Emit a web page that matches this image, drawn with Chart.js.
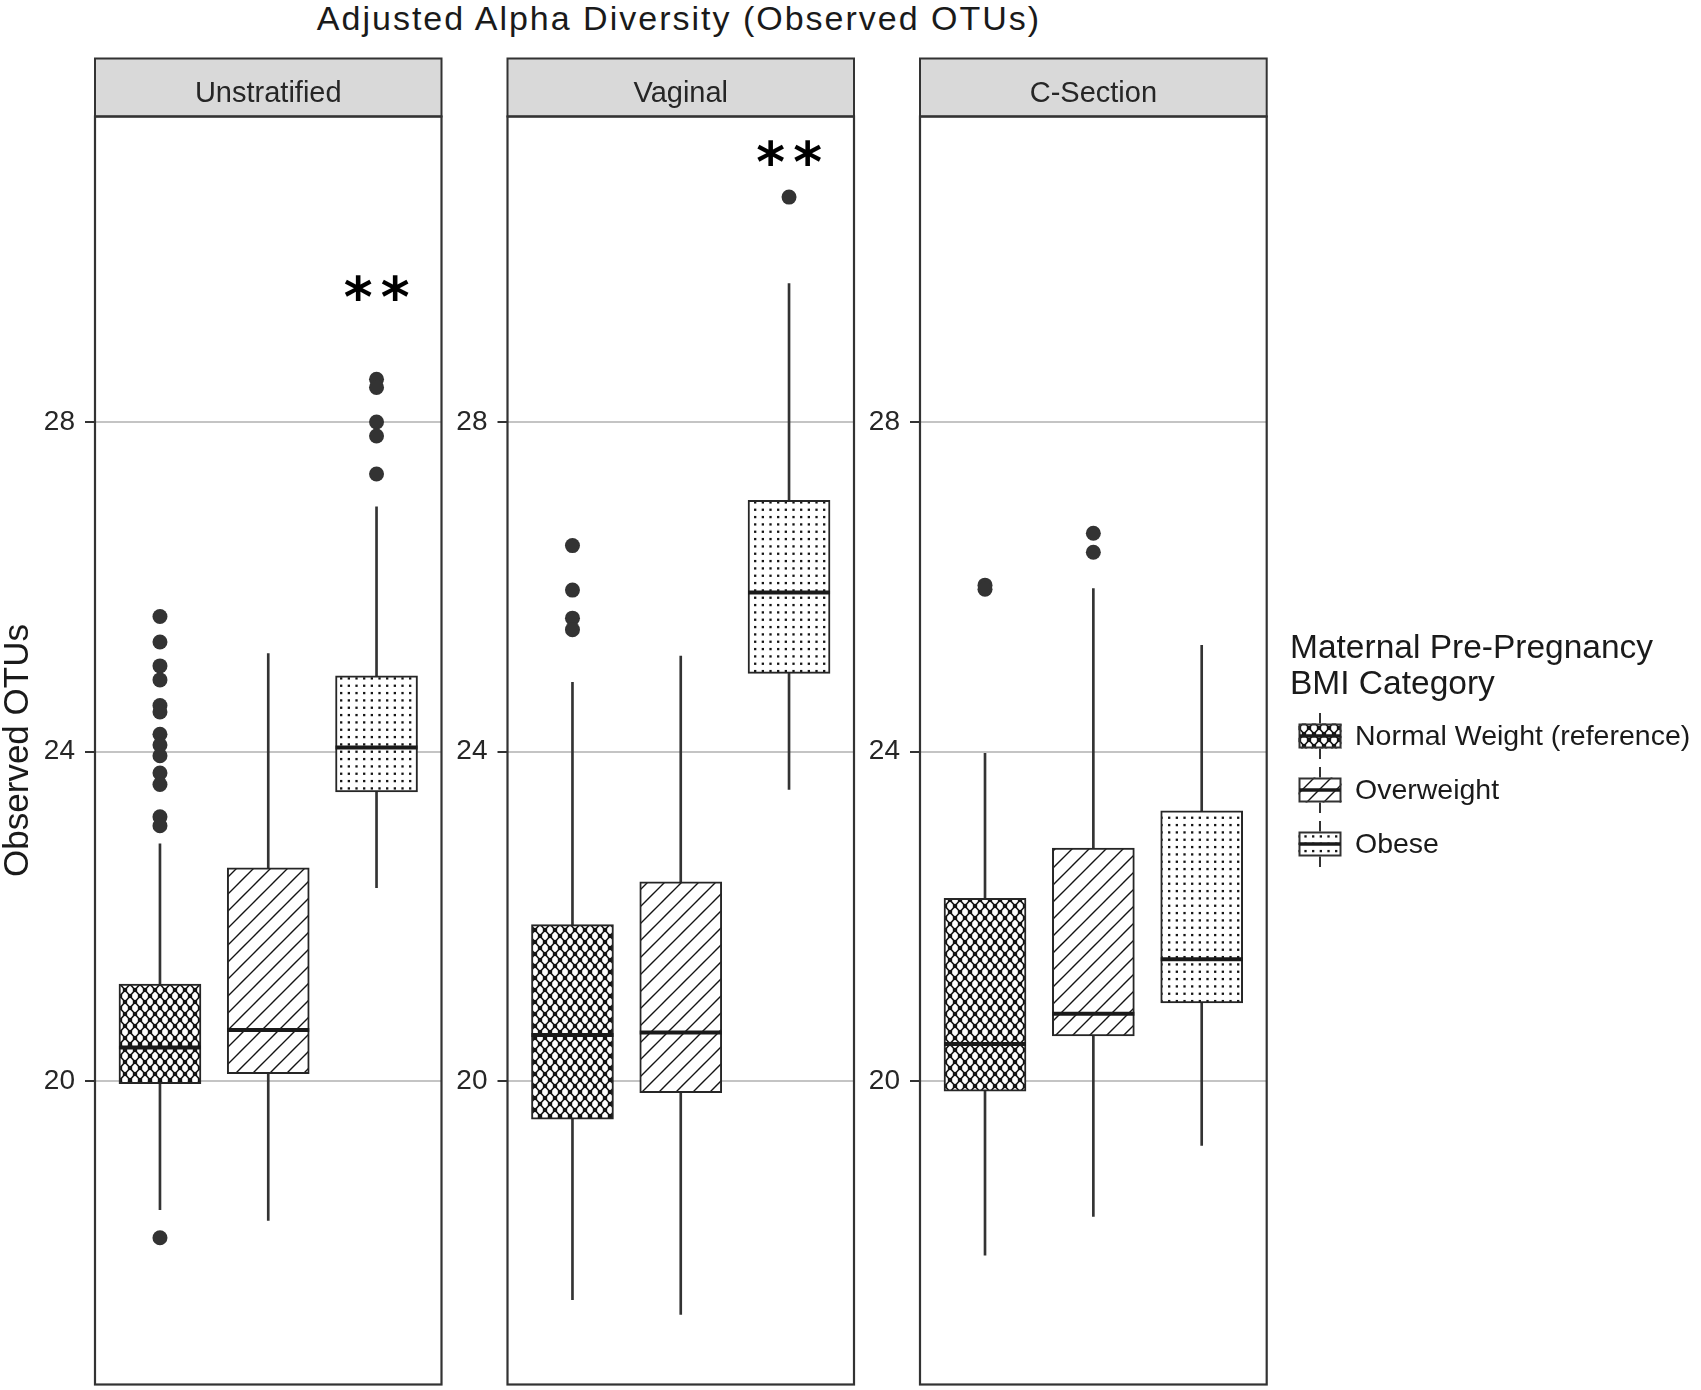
<!DOCTYPE html>
<html>
<head>
<meta charset="utf-8">
<title>Adjusted Alpha Diversity (Observed OTUs)</title>
<script src="https://cdn.jsdelivr.net/npm/chart.js@4.4.1/dist/chart.umd.min.js"></script>
<style>
  html, body { margin:0; padding:0; background:#ffffff; }
  #stage { position:relative; width:1701px; height:1390px; overflow:hidden;
           font-family:"Liberation Sans", Arial, Helvetica, sans-serif; color:#1a1a1a; }
  #stage canvas.facet { position:absolute; left:0; top:0; }
  #mainTitle { position:absolute; left:1px; top:-2px; width:1356px; text-align:center;
               font-size:34px; line-height:40px; letter-spacing:2px; white-space:nowrap; }
  #legendTitle { position:absolute; left:1290px; top:629px; font-size:33.5px; line-height:35.7px; white-space:nowrap; }
  .legKey { position:absolute; }
  .legLabel { position:absolute; left:1355px; font-size:28.5px; line-height:40px; white-space:nowrap; }
</style>
</head>
<body>
<div id="stage">
  <div id="mainTitle">Adjusted Alpha Diversity (Observed OTUs)</div>
  <canvas id="c0" class="facet" width="1701" height="1390"></canvas>
  <canvas id="c1" class="facet" width="1701" height="1390"></canvas>
  <canvas id="c2" class="facet" width="1701" height="1390"></canvas>
  <div id="legendTitle">Maternal Pre-Pregnancy<br>BMI Category</div>
  <div id="legend"></div>
</div>
<script>
// ---------------- data ----------------
const facetLabels = ['Unstratified', 'Vaginal', 'C-Section'];
const bmiGroups = ['Normal Weight (reference)', 'Overweight', 'Obese'];
const groupPositions = [1, 2, 3];
const yTickValues = [20, 24, 28];
const yTickLabels = ['20', '24', '28'];
const yAxisTitle = 'Observed OTUs';

// Unstratified
const unstratWhiskerLow  = [18.44, 18.31, 22.35];
const unstratQ1          = [19.97, 20.09, 23.51];
const unstratMedian      = [20.41, 20.62, 24.05];
const unstratQ3          = [21.18, 22.59, 24.92];
const unstratWhiskerHigh = [22.88, 25.19, 26.97];
const unstratOutNormal   = [25.64, 25.33, 25.04, 24.87, 24.56, 24.48, 24.21, 24.08, 23.95, 23.74, 23.60, 23.21, 23.10, 18.10];
const unstratOutOver     = [];
const unstratOutObese    = [28.52, 28.42, 28.00, 27.83, 27.37];
const unstratSignif      = ['', '', '**'];
const unstratSignifY     = [null, null, 29.63];

// Vaginal
const vaginalWhiskerLow  = [17.35, 17.17, 23.54];
const vaginalQ1          = [19.54, 19.86, 24.95];
const vaginalMedian      = [20.56, 20.59, 25.93];
const vaginalQ3          = [21.90, 22.42, 27.05];
const vaginalWhiskerHigh = [24.84, 25.16, 29.68];
const vaginalOutNormal   = [26.50, 25.96, 25.62, 25.48];
const vaginalOutOver     = [];
const vaginalOutObese    = [30.73];
const vaginalSignif      = ['', '', '**'];
const vaginalSignifY     = [null, null, 31.26];

// C-Section
const csectWhiskerLow  = [17.89, 18.36, 19.22];
const csectQ1          = [19.88, 20.55, 20.95];
const csectMedian      = [20.45, 20.82, 21.48];
const csectQ3          = [22.22, 22.83, 23.28];
const csectWhiskerHigh = [23.98, 25.98, 25.29];
const csectOutNormal   = [26.02, 25.97];
const csectOutOver     = [26.65, 26.42];
const csectOutObese    = [];
const csectSignif      = ['', '', ''];
const csectSignifY     = [null, null, null];

// ---------------- layout / style ----------------
const PAGE_W = 1701, PAGE_H = 1390;
const panelLefts  = [95, 507.5, 920];
const panelRights = [441.5, 854, 1266.7];
const panelTop = 116.5, panelBottom = 1384.5;
const axisWidth = 95;
const stripHeight = 58;
const yMin = 16.319, yMax = 31.708;
const xMin = 0.4, xMax = 3.6;
const FONT = '"Liberation Sans", Arial, Helvetica, sans-serif';
const patternKinds = ['cross', 'diag', 'dots'];

function makePattern(ctx, kind) {
  const t = document.createElement('canvas');
  let w, h;
  if (kind === 'cross') { w = 10; h = 12; }
  else if (kind === 'diag') { w = 17; h = 17; }
  else { w = 23; h = 22; }
  t.width = w; t.height = h;
  const g = t.getContext('2d');
  g.fillStyle = '#ffffff'; g.fillRect(0, 0, w, h);
  g.strokeStyle = '#141414'; g.fillStyle = '#141414';
  if (kind === 'cross') {
    g.lineWidth = 1.6;
    g.beginPath();
    g.moveTo(0, 0); g.lineTo(w, h);
    g.moveTo(w, 0); g.lineTo(0, h);
    g.stroke();
    const dot = (x, y) => { g.beginPath(); g.arc(x, y, 2.3, 0, Math.PI * 2); g.fill(); };
    dot(w / 2, h / 2); dot(0, 0); dot(w, 0); dot(0, h); dot(w, h);
  } else if (kind === 'diag') {
    g.lineWidth = 1.4;
    g.beginPath();
    g.moveTo(-1, h + 1); g.lineTo(w + 1, -1);
    g.moveTo(-1, 1); g.lineTo(1, -1);
    g.moveTo(w - 1, h + 1); g.lineTo(w + 1, h - 1);
    g.stroke();
  } else {
    for (let i = 0; i < 3; i++) for (let j = 0; j < 3; j++) {
      g.fillRect(i * w / 3 + 2.7, j * h / 3 + 2.6, 2.3, 2.3);
    }
  }
  return ctx.createPattern(t, 'repeat');
}

const facets = [
  { label: facetLabels[0], low: unstratWhiskerLow, q1: unstratQ1, med: unstratMedian, q3: unstratQ3, high: unstratWhiskerHigh,
    outs: [unstratOutNormal, unstratOutOver, unstratOutObese], sig: unstratSignif, sigY: unstratSignifY },
  { label: facetLabels[1], low: vaginalWhiskerLow, q1: vaginalQ1, med: vaginalMedian, q3: vaginalQ3, high: vaginalWhiskerHigh,
    outs: [vaginalOutNormal, vaginalOutOver, vaginalOutObese], sig: vaginalSignif, sigY: vaginalSignifY },
  { label: facetLabels[2], low: csectWhiskerLow, q1: csectQ1, med: csectMedian, q3: csectQ3, high: csectWhiskerHigh,
    outs: [csectOutNormal, csectOutOver, csectOutObese], sig: csectSignif, sigY: csectSignifY }
];

const facetDecor = {
  id: 'facetDecor',
  afterDatasetsDraw(chart, args, opts) {
    const { ctx, chartArea: a } = chart;
    const xs = chart.scales.x, ys = chart.scales.y;
    ctx.save();
    // significance marks
    ctx.fillStyle = '#000000';
    ctx.textAlign = 'center';
    ctx.textBaseline = 'alphabetic';
    ctx.font = 'bold 100px "DejaVu Sans", sans-serif';
    const m0 = ctx.measureText('*');
    const inkW = m0.actualBoundingBoxLeft + m0.actualBoundingBoxRight;
    const size = 100 * 27 / inkW;
    ctx.font = 'bold ' + size.toFixed(2) + 'px "DejaVu Sans", sans-serif';
    opts.sig.forEach((lab, i) => {
      if (!lab) return;
      const chars = lab.split('');
      const cx = xs.getPixelForValue(groupPositions[i]);
      const cy = ys.getPixelForValue(opts.sigY[i]);
      const pitch = 37;
      chars.forEach((ch, k) => {
        const m = ctx.measureText(ch);
        const base = cy + (m.actualBoundingBoxAscent - m.actualBoundingBoxDescent) / 2;
        ctx.fillText(ch, cx + (k - (chars.length - 1) / 2) * pitch, base);
      });
    });
    // strip
    ctx.fillStyle = '#d9d9d9';
    ctx.fillRect(a.left, a.top - stripHeight, a.right - a.left, stripHeight);
    ctx.lineWidth = 2;
    ctx.strokeStyle = '#333333';
    ctx.strokeRect(a.left, a.top - stripHeight, a.right - a.left, stripHeight);
    ctx.fillStyle = '#262626';
    ctx.font = '29px ' + FONT;
    ctx.textAlign = 'center';
    ctx.fillText(opts.label, (a.left + a.right) / 2, a.top - stripHeight + 43.2);
    // panel border
    ctx.lineWidth = 2.2;
    ctx.strokeRect(a.left, a.top, a.right - a.left, a.bottom - a.top);
    ctx.restore();
  }
};

function buildChart(idx) {
  const f = facets[idx];
  const canvas = document.getElementById('c' + idx);
  const ctx = canvas.getContext('2d');
  const pats = patternKinds.map(k => makePattern(ctx, k));
  const outlierPts = [];
  f.outs.forEach((arr, g) => arr.forEach(v => outlierPts.push({ x: groupPositions[g], y: v })));
  return new Chart(canvas, {
    type: 'bar',
    data: {
      datasets: [
        { type: 'bar', label: 'whiskers',
          data: groupPositions.map((x, i) => ({ x: x, y: [f.low[i], f.high[i]] })),
          backgroundColor: '#333333', borderWidth: 0, barThickness: 2, grouped: false, order: 3 },
        { type: 'bar', label: 'boxes',
          data: groupPositions.map((x, i) => ({ x: x, y: [f.q1[i], f.q3[i]] })),
          backgroundColor: pats, borderColor: '#262626', borderWidth: 2, borderSkipped: false,
          barThickness: 82, grouped: false, order: 2 },
        { type: 'scatter', label: 'medians',
          data: groupPositions.map((x, i) => ({ x: x, y: f.med[i] })),
          pointStyle: 'line', pointRadius: 41, pointBorderWidth: 4, pointBorderColor: '#1a1a1a',
          pointHoverRadius: 41, order: 1 },
        { type: 'scatter', label: 'outliers', data: outlierPts,
          pointStyle: 'circle', pointRadius: 7.5, pointBackgroundColor: '#333333', pointBorderWidth: 0,
          pointHoverRadius: 7.5, order: 0 }
      ]
    },
    options: {
      responsive: false, animation: false, devicePixelRatio: 1,
      layout: { autoPadding: false,
                padding: { left: panelLefts[idx] - axisWidth, right: PAGE_W - panelRights[idx],
                           top: panelTop, bottom: PAGE_H - panelBottom } },
      scales: {
        x: { type: 'linear', min: xMin, max: xMax, display: false, offset: false },
        y: {
          type: 'linear', min: yMin, max: yMax,
          afterFit: s => { s.width = axisWidth; s.paddingTop = 0; s.paddingBottom = 0; },
          afterBuildTicks: s => { s.ticks = yTickValues.map(v => ({ value: v })); },
          ticks: { callback: v => yTickLabels[yTickValues.indexOf(v)], color: '#262626',
                   font: { family: FONT, size: 28 }, padding: 10 },
          grid: { color: '#c4c4c4', lineWidth: 2, drawTicks: true, tickLength: 10,
                  tickColor: '#333333', tickWidth: 2 },
          border: { display: false },
          title: idx === 0
            ? { display: true, text: yAxisTitle, color: '#1a1a1a',
                font: { family: FONT, size: 35, lineHeight: 1.05 }, padding: { top: 0, bottom: 0 } }
            : { display: false }
        }
      },
      plugins: {
        legend: { display: false }, tooltip: { enabled: false },
        facetDecor: { label: f.label, sig: f.sig, sigY: f.sigY }
      }
    },
    plugins: [facetDecor]
  });
}

[0, 1, 2].forEach(buildChart);

// ---------------- legend ----------------
const legendKeyCenterX = 1319.5, legendFirstY = 736.3, legendPitch = 53.9;
const legend = document.getElementById('legend');
bmiGroups.forEach((name, i) => {
  const cy = legendFirstY + i * legendPitch;
  const kc = document.createElement('canvas');
  kc.width = 52; kc.height = 52; kc.className = 'legKey';
  kc.style.left = (legendKeyCenterX - 26) + 'px';
  kc.style.top = (cy - 26) + 'px';
  const g = kc.getContext('2d');
  g.strokeStyle = '#333333'; g.lineWidth = 2;
  g.beginPath(); g.moveTo(26, 3); g.lineTo(26, 49); g.stroke();
  g.fillStyle = makePattern(g, patternKinds[i]);
  g.fillRect(4.5, 13.5, 43, 25);
  g.strokeRect(5.5, 14.5, 41, 23);
  g.lineWidth = 3.5; g.strokeStyle = '#1a1a1a';
  g.beginPath(); g.moveTo(5.5, 26); g.lineTo(46.5, 26); g.stroke();
  legend.appendChild(kc);
  const lab = document.createElement('div');
  lab.className = 'legLabel';
  lab.textContent = name;
  lab.style.top = (cy - 1.3 - 19.7) + 'px';
  legend.appendChild(lab);
});
</script>
</body>
</html>
